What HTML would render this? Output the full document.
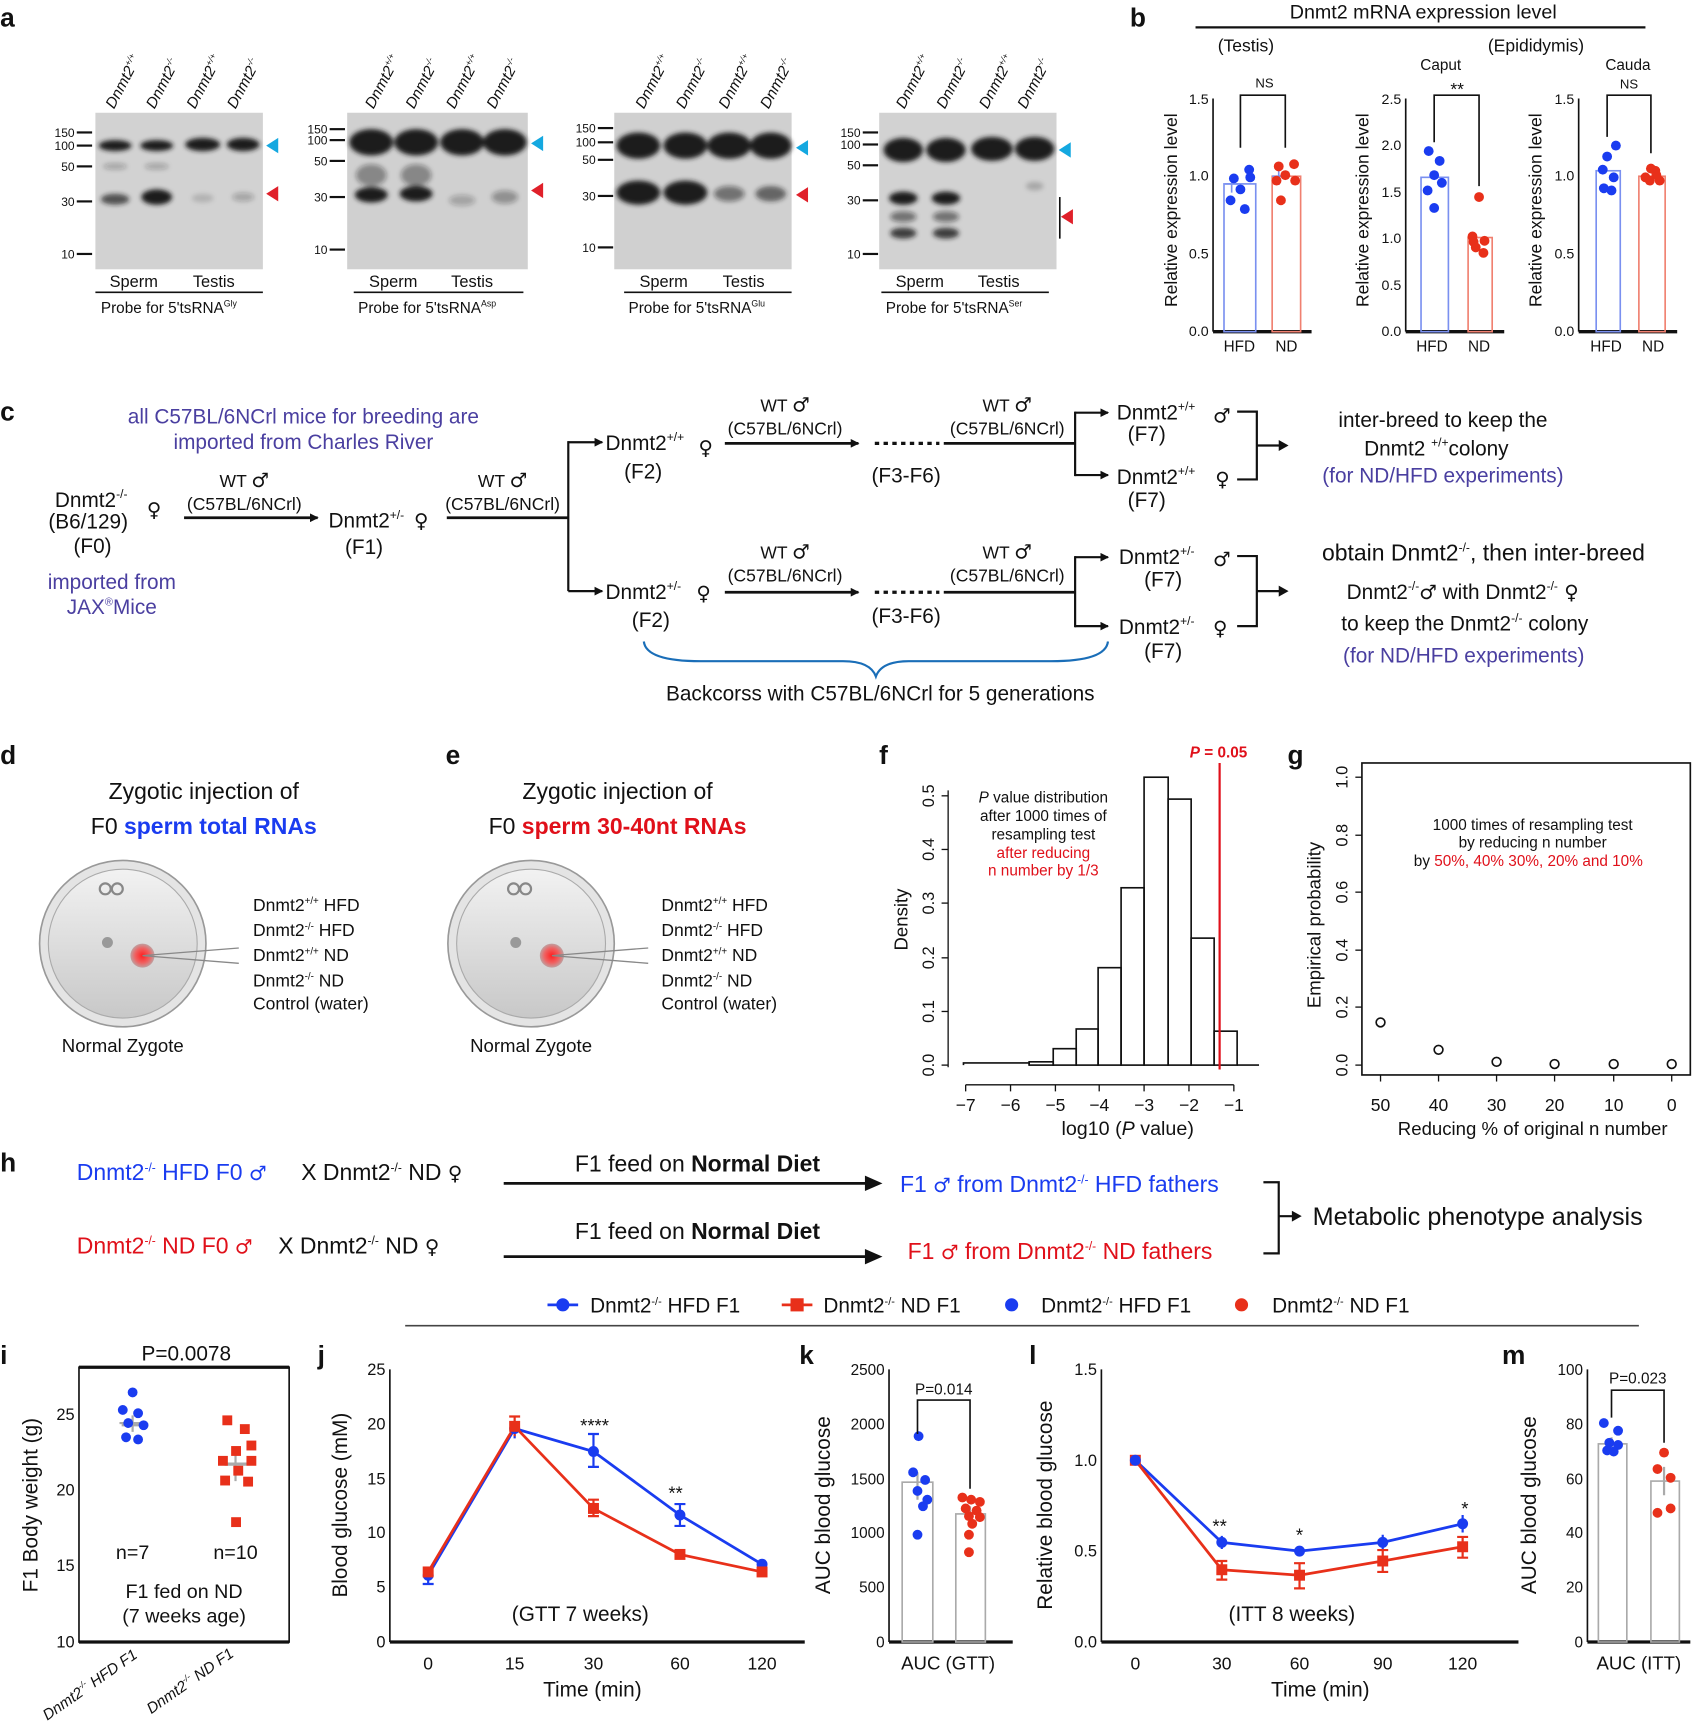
<!DOCTYPE html>
<html><head><meta charset="utf-8"><style>
html,body{margin:0;padding:0;background:#fff}
svg{display:block}
text{font-family:"Liberation Sans",Arial,sans-serif;fill:#111}
.b{font-weight:bold}
.pu{fill:#4a3fa0}
.bl{fill:#1a3cf0}
.rd{fill:#e0101a}
.sx{font-family:"DejaVu Sans",sans-serif;font-size:18px}
</style></head><body>
<svg width="1708" height="1723" viewBox="0 0 1560 1574" xmlns="http://www.w3.org/2000/svg">
<defs>
<marker id="ar" markerWidth="8" markerHeight="8" refX="7" refY="4" orient="auto" markerUnits="userSpaceOnUse"><path d="M0,0 L8,4 L0,8 z" fill="#111"/></marker>
<linearGradient id="zg" x1="0" y1="0" x2="0" y2="1"><stop offset="0" stop-color="#f2f2f2"/><stop offset="1" stop-color="#c8c8c8"/></linearGradient>
<radialGradient id="rg"><stop offset="0" stop-color="#ff2020"/><stop offset="0.6" stop-color="#f06060"/><stop offset="1" stop-color="#c0a0a0"/></radialGradient>
<filter id="bl" x="-20%" y="-50%" width="140%" height="200%"><feGaussianBlur stdDeviation="2.2"/></filter>
</defs>

<!-- panel labels -->
<g class="b" font-size="24">
<text x="0" y="24" class="b">a</text><text x="1032" y="24" class="b">b</text>
<text x="0" y="384" class="b">c</text><text x="0" y="698" class="b">d</text><text x="407" y="698" class="b">e</text>
<text x="803" y="698" class="b">f</text><text x="1176" y="698" class="b">g</text><text x="0" y="1070" class="b">h</text>
<text x="0" y="1246" class="b">i</text><text x="290" y="1246" class="b">j</text><text x="730" y="1246" class="b">k</text>
<text x="940" y="1246" class="b">l</text><text x="1372" y="1246" class="b">m</text>
</g>

<!-- ===== Panel a: blots ===== -->
<g font-size="12">
<rect x="87" y="103" width="153" height="143" fill="#d2d2d2"/>
<g fill="#1a1a1a" filter="url(#bl)">
<ellipse cx="105" cy="133" rx="15" ry="5"/><ellipse cx="143" cy="133" rx="15" ry="5"/><ellipse cx="185" cy="132" rx="16" ry="6"/><ellipse cx="222" cy="132" rx="15" ry="6"/>
<ellipse cx="105" cy="182" rx="13" ry="5" opacity="0.7"/><ellipse cx="143" cy="180" rx="14" ry="7"/>
<ellipse cx="185" cy="181" rx="10" ry="4" opacity="0.15"/><ellipse cx="222" cy="180" rx="10" ry="4" opacity="0.25"/>
<ellipse cx="105" cy="152" rx="11" ry="3" opacity="0.25"/><ellipse cx="143" cy="152" rx="11" ry="3" opacity="0.25"/>
</g>
<rect x="317" y="103" width="165" height="143" fill="#d0d0d0"/>
<g fill="#1a1a1a" filter="url(#bl)">
<ellipse cx="339" cy="130" rx="20" ry="12"/><ellipse cx="380" cy="130" rx="20" ry="12"/><ellipse cx="422" cy="130" rx="20" ry="12"/><ellipse cx="461" cy="130" rx="20" ry="12"/>
<ellipse cx="339" cy="178" rx="15" ry="7"/><ellipse cx="380" cy="177" rx="15" ry="7"/>
<ellipse cx="339" cy="160" rx="14" ry="10" opacity="0.4"/><ellipse cx="380" cy="160" rx="14" ry="10" opacity="0.4"/>
<ellipse cx="422" cy="183" rx="12" ry="5" opacity="0.25"/><ellipse cx="461" cy="180" rx="12" ry="6" opacity="0.35"/>
</g>
<rect x="561" y="103" width="162" height="143" fill="#d0d0d0"/>
<g fill="#1a1a1a" filter="url(#bl)">
<ellipse cx="583" cy="133" rx="20" ry="12"/><ellipse cx="626" cy="133" rx="20" ry="12"/><ellipse cx="666" cy="133" rx="20" ry="12"/><ellipse cx="704" cy="133" rx="19" ry="12"/>
<ellipse cx="583" cy="176" rx="20" ry="11"/><ellipse cx="626" cy="176" rx="20" ry="11"/>
<ellipse cx="666" cy="177" rx="14" ry="7" opacity="0.5"/><ellipse cx="704" cy="177" rx="14" ry="7" opacity="0.6"/>
</g>
<rect x="803" y="103" width="162" height="143" fill="#d2d2d2"/>
<g fill="#1a1a1a" filter="url(#bl)">
<ellipse cx="825" cy="137" rx="18" ry="11"/><ellipse cx="864" cy="137" rx="18" ry="11"/><ellipse cx="906" cy="136" rx="19" ry="11"/><ellipse cx="945" cy="136" rx="18" ry="11"/>
<ellipse cx="825" cy="181" rx="13" ry="6"/><ellipse cx="864" cy="181" rx="13" ry="6"/>
<ellipse cx="825" cy="198" rx="12" ry="5" opacity="0.5"/><ellipse cx="864" cy="198" rx="12" ry="5" opacity="0.5"/>
<ellipse cx="825" cy="213" rx="12" ry="5" opacity="0.8"/><ellipse cx="864" cy="213" rx="12" ry="5" opacity="0.8"/>
<ellipse cx="945" cy="170" rx="8" ry="4" opacity="0.2"/>
</g>
<line x1="968" y1="180" x2="968" y2="218" stroke="#111" stroke-width="1.5"/>
<g stroke="#111" stroke-width="2">
<line x1="70" y1="121" x2="84" y2="121"/><line x1="70" y1="133" x2="84" y2="133"/><line x1="70" y1="152" x2="84" y2="152"/><line x1="70" y1="184" x2="84" y2="184"/><line x1="70" y1="232" x2="84" y2="232"/>
<line x1="301" y1="118" x2="315" y2="118"/><line x1="301" y1="128" x2="315" y2="128"/><line x1="301" y1="147" x2="315" y2="147"/><line x1="301" y1="180" x2="315" y2="180"/><line x1="301" y1="228" x2="315" y2="228"/>
<line x1="546" y1="117" x2="560" y2="117"/><line x1="546" y1="130" x2="560" y2="130"/><line x1="546" y1="146" x2="560" y2="146"/><line x1="546" y1="179" x2="560" y2="179"/><line x1="546" y1="226" x2="560" y2="226"/>
<line x1="788" y1="121" x2="802" y2="121"/><line x1="788" y1="132" x2="802" y2="132"/><line x1="788" y1="151" x2="802" y2="151"/><line x1="788" y1="183" x2="802" y2="183"/><line x1="788" y1="232" x2="802" y2="232"/>
</g>
<g font-size="11" text-anchor="end">
<text x="68" y="125">150</text><text x="68" y="137">100</text><text x="68" y="156">50</text><text x="68" y="188">30</text><text x="68" y="236">10</text>
<text x="299" y="122">150</text><text x="299" y="132">100</text><text x="299" y="151">50</text><text x="299" y="184">30</text><text x="299" y="232">10</text>
<text x="544" y="121">150</text><text x="544" y="134">100</text><text x="544" y="150">50</text><text x="544" y="183">30</text><text x="544" y="230">10</text>
<text x="786" y="125">150</text><text x="786" y="136">100</text><text x="786" y="155">50</text><text x="786" y="187">30</text><text x="786" y="236">10</text>
</g>
<g fill="#14a8e0"><path d="M243,133 l11,-7 v14z"/><path d="M485,131 l11,-7 v14z"/><path d="M727,135 l11,-7 v14z"/><path d="M967,137 l11,-7 v14z"/></g>
<g fill="#e0202a"><path d="M243,177 l11,-7 v14z"/><path d="M485,174 l11,-7 v14z"/><path d="M727,178 l11,-7 v14z"/><path d="M969,198 l11,-7 v14z"/></g>
<g font-size="14" font-style="italic">
<text transform="translate(104,100) rotate(-62)">Dnmt2<tspan font-size="8" dy="-6">+/+</tspan></text>
<text transform="translate(141,100) rotate(-62)">Dnmt2<tspan font-size="8" dy="-6">-/-</tspan></text>
<text transform="translate(178,100) rotate(-62)">Dnmt2<tspan font-size="8" dy="-6">+/+</tspan></text>
<text transform="translate(215,100) rotate(-62)">Dnmt2<tspan font-size="8" dy="-6">-/-</tspan></text>
<text transform="translate(341,100) rotate(-62)">Dnmt2<tspan font-size="8" dy="-6">+/+</tspan></text>
<text transform="translate(378,100) rotate(-62)">Dnmt2<tspan font-size="8" dy="-6">-/-</tspan></text>
<text transform="translate(415,100) rotate(-62)">Dnmt2<tspan font-size="8" dy="-6">+/+</tspan></text>
<text transform="translate(452,100) rotate(-62)">Dnmt2<tspan font-size="8" dy="-6">-/-</tspan></text>
<text transform="translate(588,100) rotate(-62)">Dnmt2<tspan font-size="8" dy="-6">+/+</tspan></text>
<text transform="translate(625,100) rotate(-62)">Dnmt2<tspan font-size="8" dy="-6">-/-</tspan></text>
<text transform="translate(664,100) rotate(-62)">Dnmt2<tspan font-size="8" dy="-6">+/+</tspan></text>
<text transform="translate(702,100) rotate(-62)">Dnmt2<tspan font-size="8" dy="-6">-/-</tspan></text>
<text transform="translate(826,100) rotate(-62)">Dnmt2<tspan font-size="8" dy="-6">+/+</tspan></text>
<text transform="translate(863,100) rotate(-62)">Dnmt2<tspan font-size="8" dy="-6">-/-</tspan></text>
<text transform="translate(902,100) rotate(-62)">Dnmt2<tspan font-size="8" dy="-6">+/+</tspan></text>
<text transform="translate(937,100) rotate(-62)">Dnmt2<tspan font-size="8" dy="-6">-/-</tspan></text>
</g>
<g font-size="15">
<text x="100" y="262">Sperm</text><text x="176" y="262">Testis</text>
<text x="337" y="262">Sperm</text><text x="412" y="262">Testis</text>
<text x="584" y="262">Sperm</text><text x="660" y="262">Testis</text>
<text x="818" y="262">Sperm</text><text x="893" y="262">Testis</text>
</g>
<g stroke="#111" stroke-width="1.5">
<line x1="87" y1="267" x2="240" y2="267"/><line x1="323" y1="267" x2="478" y2="267"/><line x1="570" y1="267" x2="723" y2="267"/><line x1="805" y1="267" x2="958" y2="267"/>
</g>
<g font-size="14">
<text x="92" y="286">Probe for 5'tsRNA<tspan font-size="8" dy="-6">Gly</tspan></text>
<text x="327" y="286">Probe for 5'tsRNA<tspan font-size="8" dy="-6">Asp</tspan></text>
<text x="574" y="286">Probe for 5'tsRNA<tspan font-size="8" dy="-6">Glu</tspan></text>
<text x="809" y="286">Probe for 5'tsRNA<tspan font-size="8" dy="-6">Ser</tspan></text>
</g>
</g>

<!-- ===== Panel b ===== -->
<text x="1300" y="17" font-size="18" text-anchor="middle">Dnmt2 mRNA expression level</text>
<line x1="1092" y1="25" x2="1503" y2="25" stroke="#111" stroke-width="2"/>
<text x="1138" y="47" font-size="16" text-anchor="middle">(Testis)</text>
<text x="1403" y="47" font-size="16" text-anchor="middle">(Epididymis)</text>
<text x="1316" y="64" font-size="14" text-anchor="middle">Caput</text>
<text x="1487" y="64" font-size="14" text-anchor="middle">Cauda</text>
<g font-size="13">
<line x1="1108" y1="90" x2="1108" y2="303" stroke="#111" stroke-width="1.5"/>
<line x1="1108" y1="303" x2="1198" y2="303" stroke="#111" stroke-width="3"/>
<g text-anchor="end"><text x="1104" y="95">1.5</text><text x="1104" y="165">1.0</text><text x="1104" y="236">0.5</text><text x="1104" y="307">0.0</text></g>
<text transform="translate(1075,192) rotate(-90)" font-size="16" text-anchor="middle">Relative expression level</text>
<rect x="1118" y="168" width="29" height="135" fill="none" stroke="#7a90f0" stroke-width="1.5"/>
<rect x="1162" y="161" width="26" height="142" fill="none" stroke="#f08070" stroke-width="1.5"/>
<path d="M1125,160v16M1119,168h12M1168,153v16M1162,161h12" stroke="#7a90f0" stroke-width="1.5"/>
<g fill="#1a3cf0"><circle cx="1127" cy="163" r="4.5"/><circle cx="1141" cy="155" r="4.5"/><circle cx="1133" cy="173" r="4.5"/><circle cx="1137" cy="191" r="4.5"/><circle cx="1124" cy="183" r="4.5"/><circle cx="1142" cy="162" r="4.5"/></g>
<g fill="#e8301a"><circle cx="1168" cy="152" r="4.5"/><circle cx="1182" cy="150" r="4.5"/><circle cx="1174" cy="160" r="4.5"/><circle cx="1183" cy="165" r="4.5"/><circle cx="1170" cy="183" r="4.5"/><circle cx="1166" cy="165" r="4.5"/></g>
<path d="M1133,135V87H1174V135" fill="none" stroke="#111" stroke-width="1.5"/><text x="1155" y="80" text-anchor="middle" font-size="12">NS</text>
<text x="1132" y="321" font-size="14" text-anchor="middle">HFD</text><text x="1175" y="321" font-size="14" text-anchor="middle">ND</text>
<line x1="1284" y1="90" x2="1284" y2="303" stroke="#111" stroke-width="1.5"/>
<line x1="1284" y1="303" x2="1374" y2="303" stroke="#111" stroke-width="3"/>
<g text-anchor="end"><text x="1280" y="95">2.5</text><text x="1280" y="137">2.0</text><text x="1280" y="180">1.5</text><text x="1280" y="222">1.0</text><text x="1280" y="265">0.5</text><text x="1280" y="307">0.0</text></g>
<text transform="translate(1250,192) rotate(-90)" font-size="16" text-anchor="middle">Relative expression level</text>
<rect x="1298" y="162" width="25" height="141" fill="none" stroke="#7a90f0" stroke-width="1.5"/>
<rect x="1341" y="217" width="22" height="86" fill="none" stroke="#f08070" stroke-width="1.5"/>
<g fill="#1a3cf0"><circle cx="1305" cy="138" r="4.5"/><circle cx="1315" cy="147" r="4.5"/><circle cx="1310" cy="160" r="4.5"/><circle cx="1317" cy="167" r="4.5"/><circle cx="1304" cy="174" r="4.5"/><circle cx="1310" cy="190" r="4.5"/></g>
<g fill="#e8301a"><circle cx="1351" cy="180" r="4.5"/><circle cx="1345" cy="216" r="4.5"/><circle cx="1356" cy="220" r="4.5"/><circle cx="1348" cy="226" r="4.5"/><circle cx="1355" cy="231" r="4.5"/><circle cx="1346" cy="221" r="4.5"/></g>
<path d="M1310,130V87H1351V170" fill="none" stroke="#111" stroke-width="1.5"/><text x="1331" y="87" text-anchor="middle" font-size="16">**</text>
<text x="1308" y="321" font-size="14" text-anchor="middle">HFD</text><text x="1351" y="321" font-size="14" text-anchor="middle">ND</text>
<line x1="1442" y1="90" x2="1442" y2="303" stroke="#111" stroke-width="1.5"/>
<line x1="1442" y1="303" x2="1532" y2="303" stroke="#111" stroke-width="3"/>
<g text-anchor="end"><text x="1438" y="95">1.5</text><text x="1438" y="165">1.0</text><text x="1438" y="236">0.5</text><text x="1438" y="307">0.0</text></g>
<text transform="translate(1408,192) rotate(-90)" font-size="16" text-anchor="middle">Relative expression level</text>
<rect x="1458" y="156" width="22" height="147" fill="none" stroke="#7a90f0" stroke-width="1.5"/>
<rect x="1497" y="161" width="24" height="142" fill="none" stroke="#f08070" stroke-width="1.5"/>
<g fill="#1a3cf0"><circle cx="1468" cy="143" r="4.5"/><circle cx="1476" cy="133" r="4.5"/><circle cx="1464" cy="155" r="4.5"/><circle cx="1474" cy="162" r="4.5"/><circle cx="1465" cy="172" r="4.5"/><circle cx="1472" cy="174" r="4.5"/></g>
<g fill="#e8301a"><circle cx="1508" cy="154" r="4.5"/><circle cx="1513" cy="160" r="4.5"/><circle cx="1503" cy="162" r="4.5"/><circle cx="1516" cy="165" r="4.5"/><circle cx="1507" cy="165" r="4.5"/><circle cx="1512" cy="156" r="4.5"/></g>
<path d="M1468,125V87H1508V140" fill="none" stroke="#111" stroke-width="1.5"/><text x="1488" y="81" text-anchor="middle" font-size="12">NS</text>
<text x="1467" y="321" font-size="14" text-anchor="middle">HFD</text><text x="1510" y="321" font-size="14" text-anchor="middle">ND</text>
</g>

<!-- ===== Panel c ===== -->
<g font-size="19">
<text x="277" y="387" text-anchor="middle" class="pu">all C57BL/6NCrl mice for breeding are</text>
<text x="277" y="410" text-anchor="middle" class="pu">imported from Charles River</text>
<text x="50" y="463">Dnmt2<tspan font-size="11" dy="-8">-/-</tspan></text><text x="134" y="472" class="sx">♀</text>
<text x="44" y="483">(B6/129)</text>
<text x="67" y="505">(F0)</text>
<text x="102" y="538" text-anchor="middle" class="pu">imported from</text>
<text x="102" y="561" text-anchor="middle" class="pu">JAX<tspan font-size="10" dy="-8">®</tspan><tspan dy="8">Mice</tspan></text>
<g font-size="16"><text x="223" y="445" text-anchor="middle">WT <tspan class="sx">♂</tspan></text><text x="223" y="466" text-anchor="middle">(C57BL/6NCrl)</text></g>
<line x1="168" y1="473" x2="290" y2="473" stroke="#111" stroke-width="2.5" marker-end="url(#ar)"/>
<text x="300" y="482">Dnmt2<tspan font-size="11" dy="-8">+/-</tspan></text><text x="378" y="482" class="sx">♀</text>
<text x="315" y="506">(F1)</text>
<g font-size="16"><text x="459" y="445" text-anchor="middle">WT <tspan class="sx">♂</tspan></text><text x="459" y="466" text-anchor="middle">(C57BL/6NCrl)</text></g>
<line x1="408" y1="473" x2="519" y2="473" stroke="#111" stroke-width="2.5"/>
<path d="M519,403V540" stroke="#111" stroke-width="2" fill="none"/>
<line x1="519" y1="404" x2="550" y2="404" stroke="#111" stroke-width="2" marker-end="url(#ar)"/>
<line x1="519" y1="540" x2="550" y2="540" stroke="#111" stroke-width="2" marker-end="url(#ar)"/>
<text x="553" y="411">Dnmt2<tspan font-size="11" dy="-8">+/+</tspan></text><text x="638" y="415" class="sx">♀</text>
<text x="570" y="437">(F2)</text>
<text x="553" y="547">Dnmt2<tspan font-size="11" dy="-8">+/-</tspan></text><text x="636" y="548" class="sx">♀</text>
<text x="577" y="573">(F2)</text>
<g font-size="16">
<text x="717" y="376" text-anchor="middle">WT <tspan class="sx">♂</tspan></text><text x="717" y="397" text-anchor="middle">(C57BL/6NCrl)</text>
<text x="920" y="376" text-anchor="middle">WT <tspan class="sx">♂</tspan></text><text x="920" y="397" text-anchor="middle">(C57BL/6NCrl)</text>
<text x="717" y="510" text-anchor="middle">WT <tspan class="sx">♂</tspan></text><text x="717" y="531" text-anchor="middle">(C57BL/6NCrl)</text>
<text x="920" y="510" text-anchor="middle">WT <tspan class="sx">♂</tspan></text><text x="920" y="531" text-anchor="middle">(C57BL/6NCrl)</text>
</g>
<line x1="662" y1="405" x2="784" y2="405" stroke="#111" stroke-width="2.5" marker-end="url(#ar)"/>
<line x1="799" y1="405" x2="858" y2="405" stroke="#111" stroke-width="3" stroke-dasharray="4,4"/>
<line x1="862" y1="405" x2="982" y2="405" stroke="#111" stroke-width="2.5"/>
<line x1="662" y1="541" x2="784" y2="541" stroke="#111" stroke-width="2.5" marker-end="url(#ar)"/>
<line x1="799" y1="541" x2="858" y2="541" stroke="#111" stroke-width="3" stroke-dasharray="4,4"/>
<line x1="862" y1="541" x2="982" y2="541" stroke="#111" stroke-width="2.5"/>
<text x="796" y="441">(F3-F6)</text><text x="796" y="569">(F3-F6)</text>
<path d="M982,376V435M982,508V573" stroke="#111" stroke-width="2"/>
<g stroke="#111" stroke-width="2" marker-end="url(#ar)"><line x1="982" y1="377" x2="1012" y2="377"/><line x1="982" y1="434" x2="1012" y2="434"/><line x1="982" y1="509" x2="1012" y2="509"/><line x1="982" y1="572" x2="1012" y2="572"/></g>
<text x="1020" y="383">Dnmt2<tspan font-size="11" dy="-8">+/+</tspan></text><text x="1108" y="386" class="sx">♂</text><text x="1030" y="403">(F7)</text>
<text x="1020" y="442">Dnmt2<tspan font-size="11" dy="-8">+/+</tspan></text><text x="1110" y="444" class="sx">♀</text><text x="1030" y="463">(F7)</text>
<text x="1022" y="515">Dnmt2<tspan font-size="11" dy="-8">+/-</tspan></text><text x="1108" y="517" class="sx">♂</text><text x="1045" y="536">(F7)</text>
<text x="1022" y="579">Dnmt2<tspan font-size="11" dy="-8">+/-</tspan></text><text x="1108" y="580" class="sx">♀</text><text x="1045" y="601">(F7)</text>
<path d="M1130,376H1148V438H1130M1148,407H1175M1130,508H1148V572H1130M1148,540H1175" stroke="#111" stroke-width="2" fill="none"/>
<path d="M1168,402l9,5l-9,5zM1168,535l9,5l-9,5z" fill="#111"/>
<text x="1318" y="390" text-anchor="middle">inter-breed to keep the</text>
<text x="1312" y="416" text-anchor="middle">Dnmt2 <tspan font-size="11" dy="-8">+/+</tspan><tspan dy="8">colony</tspan></text>
<text x="1318" y="441" text-anchor="middle" class="pu">(for ND/HFD experiments)</text>
<text x="1355" y="512" text-anchor="middle" font-size="21">obtain Dnmt2<tspan font-size="11" dy="-8">-/-</tspan><tspan dy="8">, then inter-breed</tspan></text>
<text x="1336" y="547" text-anchor="middle">Dnmt2<tspan font-size="11" dy="-8">-/-</tspan><tspan dy="8" class="sx">♂</tspan><tspan> with Dnmt2</tspan><tspan font-size="11" dy="-8">-/-</tspan><tspan dy="8" class="sx"> ♀</tspan></text>
<text x="1338" y="576" text-anchor="middle">to keep the Dnmt2<tspan font-size="11" dy="-8">-/-</tspan><tspan dy="8"> colony</tspan></text>
<text x="1337" y="605" text-anchor="middle" class="pu">(for ND/HFD experiments)</text>
<path d="M588,586 Q590,604 640,604 L770,604 Q795,604 800,618 Q805,604 830,604 L960,604 Q1010,604 1012,586" stroke="#1a6eb8" stroke-width="2" fill="none"/>
<text x="804" y="640" text-anchor="middle">Backcorss with C57BL/6NCrl for 5 generations</text>
</g>

<!-- ===== Panels d, e ===== -->
<g font-size="21">
<text x="186" y="730" text-anchor="middle">Zygotic injection of</text>
<text x="186" y="762" text-anchor="middle">F0 <tspan class="b" style="fill:#1a3cf0">sperm total RNAs</tspan></text>
<text x="564" y="730" text-anchor="middle">Zygotic injection of</text>
<text x="564" y="762" text-anchor="middle">F0 <tspan class="b" style="fill:#e0101a">sperm 30-40nt RNAs</tspan></text>
</g>
<g>
<circle cx="112" cy="862" r="76" fill="#e4e4e4" stroke="#999" stroke-width="1.5"/>
<circle cx="112" cy="862" r="68" fill="url(#zg)" stroke="#aaa"/>
<circle cx="96" cy="812" r="5" fill="none" stroke="#888" stroke-width="2"/><circle cx="107" cy="812" r="5" fill="none" stroke="#888" stroke-width="2"/>
<circle cx="98" cy="861" r="5" fill="#999"/>
<circle cx="130" cy="873" r="11" fill="url(#rg)"/>
<path d="M130,873 L218,866 M130,873 L218,880" stroke="#888" stroke-width="1.2"/>
<circle cx="485" cy="862" r="76" fill="#e4e4e4" stroke="#999" stroke-width="1.5"/>
<circle cx="485" cy="862" r="68" fill="url(#zg)" stroke="#aaa"/>
<circle cx="469" cy="812" r="5" fill="none" stroke="#888" stroke-width="2"/><circle cx="480" cy="812" r="5" fill="none" stroke="#888" stroke-width="2"/>
<circle cx="471" cy="861" r="5" fill="#999"/>
<circle cx="504" cy="873" r="11" fill="url(#rg)"/>
<path d="M504,873 L592,866 M504,873 L592,880" stroke="#888" stroke-width="1.2"/>
</g>
<g font-size="16">
<text x="231" y="832">Dnmt2<tspan font-size="9" dy="-6">+/+</tspan><tspan dy="6"> HFD</tspan></text>
<text x="231" y="855">Dnmt2<tspan font-size="9" dy="-6">-/-</tspan><tspan dy="6"> HFD</tspan></text>
<text x="231" y="878">Dnmt2<tspan font-size="9" dy="-6">+/+</tspan><tspan dy="6"> ND</tspan></text>
<text x="231" y="901">Dnmt2<tspan font-size="9" dy="-6">-/-</tspan><tspan dy="6"> ND</tspan></text>
<text x="231" y="922">Control (water)</text>
<text x="604" y="832">Dnmt2<tspan font-size="9" dy="-6">+/+</tspan><tspan dy="6"> HFD</tspan></text>
<text x="604" y="855">Dnmt2<tspan font-size="9" dy="-6">-/-</tspan><tspan dy="6"> HFD</tspan></text>
<text x="604" y="878">Dnmt2<tspan font-size="9" dy="-6">+/+</tspan><tspan dy="6"> ND</tspan></text>
<text x="604" y="901">Dnmt2<tspan font-size="9" dy="-6">-/-</tspan><tspan dy="6"> ND</tspan></text>
<text x="604" y="922">Control (water)</text>
<text x="112" y="961" text-anchor="middle" font-size="17">Normal Zygote</text>
<text x="485" y="961" text-anchor="middle" font-size="17">Normal Zygote</text>
</g>

<!-- ===== Panel f ===== -->
<g>
<line x1="866" y1="722" x2="866" y2="975" stroke="#111" stroke-width="1.2"/>
<g stroke="#111" stroke-width="1.2"><line x1="860" y1="973" x2="866" y2="973"/><line x1="860" y1="924" x2="866" y2="924"/><line x1="860" y1="875" x2="866" y2="875"/><line x1="860" y1="825" x2="866" y2="825"/><line x1="860" y1="776" x2="866" y2="776"/><line x1="860" y1="727" x2="866" y2="727"/></g>
<g font-size="15" text-anchor="middle">
<text transform="translate(853,973) rotate(-90)">0.0</text><text transform="translate(853,924) rotate(-90)">0.1</text><text transform="translate(853,875) rotate(-90)">0.2</text><text transform="translate(853,825) rotate(-90)">0.3</text><text transform="translate(853,776) rotate(-90)">0.4</text><text transform="translate(853,727) rotate(-90)">0.5</text>
<text transform="translate(829,840) rotate(-90)" font-size="17">Density</text>
</g>
<line x1="882" y1="991" x2="1127" y2="991" stroke="#111" stroke-width="1.2"/>
<g stroke="#111" stroke-width="1.2"><line x1="882" y1="991" x2="882" y2="997"/><line x1="923" y1="991" x2="923" y2="997"/><line x1="964" y1="991" x2="964" y2="997"/><line x1="1004" y1="991" x2="1004" y2="997"/><line x1="1045" y1="991" x2="1045" y2="997"/><line x1="1086" y1="991" x2="1086" y2="997"/><line x1="1127" y1="991" x2="1127" y2="997"/></g>
<g font-size="16" text-anchor="middle"><text x="882" y="1015">−7</text><text x="923" y="1015">−6</text><text x="964" y="1015">−5</text><text x="1004" y="1015">−4</text><text x="1045" y="1015">−3</text><text x="1086" y="1015">−2</text><text x="1127" y="1015">−1</text>
<text x="1030" y="1037" font-size="18">log10 (<tspan font-style="italic">P</tspan> value)</text></g>
<g fill="none" stroke="#111" stroke-width="1.5">
<path d="M880,973V971H940V973"/>
<rect x="940" y="970" width="22" height="3"/><rect x="962" y="958" width="21" height="15"/><rect x="983" y="940" width="20" height="33"/><rect x="1003" y="884" width="21" height="89"/><rect x="1024" y="811" width="21" height="162"/><rect x="1045" y="710" width="22" height="263"/><rect x="1067" y="730" width="21" height="243"/><rect x="1088" y="857" width="21" height="116"/><rect x="1109" y="942" width="21" height="31"/>
<line x1="1130" y1="973" x2="1150" y2="973"/>
</g>
<line x1="1114" y1="697" x2="1114" y2="977" stroke="#e0101a" stroke-width="2"/>
<text x="1113" y="692" font-size="14" class="b" style="fill:#e0101a" text-anchor="middle"><tspan font-style="italic">P</tspan> = 0.05</text>
<g font-size="14" text-anchor="middle">
<text x="953" y="733"><tspan font-style="italic">P</tspan> value distribution</text>
<text x="953" y="750">after 1000 times of</text>
<text x="953" y="767">resampling test</text>
<text x="953" y="784" class="rd">after reducing</text>
<text x="953" y="800" class="rd">n number by 1/3</text>
</g>
</g>

<!-- ===== Panel g ===== -->
<g>
<rect x="1244" y="697" width="300" height="285" fill="none" stroke="#111" stroke-width="1.5"/>
<g stroke="#111" stroke-width="1.2"><line x1="1238" y1="973" x2="1244" y2="973"/><line x1="1238" y1="920" x2="1244" y2="920"/><line x1="1238" y1="868" x2="1244" y2="868"/><line x1="1238" y1="815" x2="1244" y2="815"/><line x1="1238" y1="763" x2="1244" y2="763"/><line x1="1238" y1="710" x2="1244" y2="710"/>
<line x1="1261" y1="982" x2="1261" y2="988"/><line x1="1314" y1="982" x2="1314" y2="988"/><line x1="1367" y1="982" x2="1367" y2="988"/><line x1="1420" y1="982" x2="1420" y2="988"/><line x1="1474" y1="982" x2="1474" y2="988"/><line x1="1527" y1="982" x2="1527" y2="988"/></g>
<g font-size="15" text-anchor="middle">
<text transform="translate(1231,973) rotate(-90)">0.0</text><text transform="translate(1231,920) rotate(-90)">0.2</text><text transform="translate(1231,868) rotate(-90)">0.4</text><text transform="translate(1231,815) rotate(-90)">0.6</text><text transform="translate(1231,763) rotate(-90)">0.8</text><text transform="translate(1231,710) rotate(-90)">1.0</text>
<text transform="translate(1206,845) rotate(-90)" font-size="17">Empirical probability</text>
<text x="1261" y="1015" font-size="16">50</text><text x="1314" y="1015" font-size="16">40</text><text x="1367" y="1015" font-size="16">30</text><text x="1420" y="1015" font-size="16">20</text><text x="1474" y="1015" font-size="16">10</text><text x="1527" y="1015" font-size="16">0</text>
<text x="1400" y="1037" font-size="17">Reducing % of original n number</text>
<text x="1400" y="758" font-size="14">1000 times of resampling test</text>
<text x="1400" y="774" font-size="14">by reducing n number</text>
<text x="1396" y="791" font-size="14">by <tspan class="rd">50%, 40% 30%, 20% and 10%</tspan></text>
</g>
<g fill="none" stroke="#111" stroke-width="1.5"><circle cx="1261" cy="934" r="4"/><circle cx="1314" cy="959" r="4"/><circle cx="1367" cy="970" r="4"/><circle cx="1420" cy="972" r="4"/><circle cx="1474" cy="972" r="4"/><circle cx="1527" cy="972" r="4"/></g>
</g>

<!-- ===== Panel h ===== -->
<g font-size="21">
<text x="70" y="1078" class="bl">Dnmt2<tspan font-size="11" dy="-8">-/-</tspan><tspan dy="8"> HFD F0 </tspan><tspan class="sx" font-size="22">♂</tspan></text>
<text x="275" y="1078">X Dnmt2<tspan font-size="11" dy="-8">-/-</tspan><tspan dy="8"> ND </tspan><tspan class="sx">♀</tspan></text>
<text x="70" y="1145" class="rd">Dnmt2<tspan font-size="11" dy="-8">-/-</tspan><tspan dy="8"> ND F0 </tspan><tspan class="sx">♂</tspan></text>
<text x="254" y="1145">X Dnmt2<tspan font-size="11" dy="-8">-/-</tspan><tspan dy="8"> ND </tspan><tspan class="sx">♀</tspan></text>
<text x="637" y="1070" text-anchor="middle">F1 feed on <tspan class="b">Normal Diet</tspan></text>
<text x="637" y="1132" text-anchor="middle">F1 feed on <tspan class="b">Normal Diet</tspan></text>
<line x1="460" y1="1081" x2="803" y2="1081" stroke="#111" stroke-width="2.5"/><path d="M790,1074l16,7l-16,7z" fill="#111"/>
<line x1="460" y1="1148" x2="803" y2="1148" stroke="#111" stroke-width="2.5"/><path d="M790,1141l16,7l-16,7z" fill="#111"/>
<text x="822" y="1089" class="bl">F1 <tspan class="sx">♂</tspan> from Dnmt2<tspan font-size="11" dy="-8">-/-</tspan><tspan dy="8"> HFD fathers</tspan></text>
<text x="829" y="1150" class="rd">F1 <tspan class="sx">♂</tspan> from Dnmt2<tspan font-size="11" dy="-8">-/-</tspan><tspan dy="8"> ND fathers</tspan></text>
<path d="M1154,1080H1168V1145H1154M1168,1111H1182" stroke="#111" stroke-width="2" fill="none"/><path d="M1180,1106l9,5l-9,5z" fill="#111"/>
<text x="1199" y="1119" font-size="23">Metabolic phenotype analysis</text>
</g>

<!-- legend -->
<g font-size="19">
<line x1="500" y1="1192" x2="528" y2="1192" stroke="#1a3cf0" stroke-width="2.5"/><circle cx="514" cy="1192" r="6" fill="#1a3cf0"/>
<text x="539" y="1199">Dnmt2<tspan font-size="10" dy="-7">-/-</tspan><tspan dy="7"> HFD F1</tspan></text>
<line x1="714" y1="1192" x2="742" y2="1192" stroke="#e8301a" stroke-width="2.5"/><rect x="722" y="1186" width="12" height="12" fill="#e8301a"/>
<text x="752" y="1199">Dnmt2<tspan font-size="10" dy="-7">-/-</tspan><tspan dy="7"> ND F1</tspan></text>
<circle cx="924" cy="1192" r="6" fill="#1a3cf0"/>
<text x="951" y="1199">Dnmt2<tspan font-size="10" dy="-7">-/-</tspan><tspan dy="7"> HFD F1</tspan></text>
<circle cx="1134" cy="1192" r="6" fill="#e8301a"/>
<text x="1162" y="1199">Dnmt2<tspan font-size="10" dy="-7">-/-</tspan><tspan dy="7"> ND F1</tspan></text>
</g>
<line x1="370" y1="1211" x2="1497" y2="1211" stroke="#444" stroke-width="1.5"/>

<!-- ===== Panel i ===== -->
<g>
<rect x="72" y="1249" width="192" height="251" fill="none" stroke="#111" stroke-width="1.5"/>
<line x1="72" y1="1249" x2="264" y2="1249" stroke="#111" stroke-width="3"/>
<line x1="72" y1="1500" x2="264" y2="1500" stroke="#111" stroke-width="3"/>
<g font-size="15" text-anchor="end"><text x="68" y="1297">25</text><text x="68" y="1366">20</text><text x="68" y="1435">15</text><text x="68" y="1505">10</text></g>
<text transform="translate(34,1375) rotate(-90)" font-size="19" text-anchor="middle">F1 Body weight (g)</text>
<text x="170" y="1243" font-size="19" text-anchor="middle">P=0.0078</text>
<path d="M109,1300H133M121,1293V1308M111,1302H131" stroke="#aaa" stroke-width="2"/>
<g fill="#1a3cf0"><circle cx="121" cy="1272" r="4.5"/><circle cx="112" cy="1288" r="4.5"/><circle cx="126" cy="1291" r="4.5"/><circle cx="117" cy="1300" r="4.5"/><circle cx="131" cy="1302" r="4.5"/><circle cx="115" cy="1313" r="4.5"/><circle cx="126" cy="1315" r="4.5"/></g>
<path d="M203,1337H227M215,1322V1353M205,1338H225" stroke="#aaa" stroke-width="2"/>
<g fill="#e8301a"><rect x="203" y="1293" width="9" height="9"/><rect x="219" y="1301" width="9" height="9"/><rect x="225" y="1316" width="9" height="9"/><rect x="211" y="1321" width="9" height="9"/><rect x="199" y="1330" width="9" height="9"/><rect x="225" y="1330" width="9" height="9"/><rect x="213" y="1339" width="9" height="9"/><rect x="201" y="1348" width="9" height="9"/><rect x="222" y="1349" width="9" height="9"/><rect x="211" y="1386" width="9" height="9"/></g>
<g font-size="18" text-anchor="middle"><text x="121" y="1424">n=7</text><text x="215" y="1424">n=10</text>
<text x="168" y="1460">F1 fed on ND</text><text x="168" y="1482">(7 weeks age)</text></g>
<g font-size="14" font-style="italic"><text transform="translate(43,1572) rotate(-35)">Dnmt2<tspan font-size="8" dy="-6">-/-</tspan><tspan dy="6"> HFD F1</tspan></text>
<text transform="translate(138,1566) rotate(-35)">Dnmt2<tspan font-size="8" dy="-6">-/-</tspan><tspan dy="6"> ND F1</tspan></text></g>
</g>

<!-- ===== Panel j ===== -->
<g>
<line x1="356" y1="1251" x2="356" y2="1500" stroke="#111" stroke-width="1.5"/>
<line x1="356" y1="1500" x2="735" y2="1500" stroke="#111" stroke-width="3"/>
<g font-size="15" text-anchor="end"><text x="352" y="1256">25</text><text x="352" y="1306">20</text><text x="352" y="1356">15</text><text x="352" y="1405">10</text><text x="352" y="1455">5</text><text x="352" y="1505">0</text></g>
<text transform="translate(317,1375) rotate(-90)" font-size="19" text-anchor="middle">Blood glucose (mM)</text>
<g font-size="16" text-anchor="middle"><text x="391" y="1525">0</text><text x="470" y="1525">15</text><text x="542" y="1525">30</text><text x="621" y="1525">60</text><text x="696" y="1525">120</text>
<text x="541" y="1550" font-size="19">Time (min)</text><text x="530" y="1481" font-size="19">(GTT 7 weeks)</text></g>
<path d="M391,1439L470,1305L542,1326L621,1384L696,1429" stroke="#1a3cf0" stroke-width="2.5" fill="none"/>
<path d="M391,1436L470,1303L542,1378L621,1420L696,1436" stroke="#e8301a" stroke-width="2.5" fill="none"/>
<g stroke="#1a3cf0" stroke-width="2"><path d="M391,1432V1447M386,1447h10M542,1310V1340M537,1310h10M537,1340h10M621,1374V1394M616,1374h10M616,1394h10M470,1298V1314M696,1425V1434"/></g>
<g stroke="#e8301a" stroke-width="2"><path d="M470,1294V1312M465,1294h10M542,1370V1385M537,1370h10M537,1385h10M621,1416V1424M696,1433V1440"/></g>
<g fill="#1a3cf0"><circle cx="391" cy="1439" r="5"/><circle cx="470" cy="1305" r="5"/><circle cx="542" cy="1326" r="5"/><circle cx="621" cy="1384" r="5"/><circle cx="696" cy="1429" r="5"/></g>
<g fill="#e8301a"><rect x="386" y="1431" width="10" height="10"/><rect x="465" y="1298" width="10" height="10"/><rect x="537" y="1373" width="10" height="10"/><rect x="616" y="1415" width="10" height="10"/><rect x="691" y="1431" width="10" height="10"/></g>
<text x="543" y="1308" font-size="17" text-anchor="middle">****</text>
<text x="617" y="1370" font-size="17" text-anchor="middle">**</text>
</g>

<!-- ===== Panel k ===== -->
<g>
<line x1="812" y1="1251" x2="812" y2="1500" stroke="#111" stroke-width="1.5"/>
<line x1="812" y1="1500" x2="925" y2="1500" stroke="#111" stroke-width="3"/>
<g font-size="14" text-anchor="end"><text x="808" y="1256">2500</text><text x="808" y="1306">2000</text><text x="808" y="1356">1500</text><text x="808" y="1405">1000</text><text x="808" y="1455">500</text><text x="808" y="1505">0</text></g>
<text transform="translate(758,1375) rotate(-90)" font-size="19" text-anchor="middle">AUC blood glucose</text>
<rect x="824" y="1354" width="28" height="146" fill="none" stroke="#aaa" stroke-width="1.5"/>
<rect x="873" y="1383" width="27" height="117" fill="none" stroke="#aaa" stroke-width="1.5"/>
<path d="M838,1345V1370M886,1376V1392" stroke="#aaa" stroke-width="2"/>
<g fill="#1a3cf0"><circle cx="839" cy="1312" r="4.5"/><circle cx="834" cy="1345" r="4.5"/><circle cx="845" cy="1352" r="4.5"/><circle cx="838" cy="1362" r="4.5"/><circle cx="847" cy="1370" r="4.5"/><circle cx="843" cy="1376" r="4.5"/><circle cx="838" cy="1402" r="4.5"/></g>
<g fill="#e8301a"><circle cx="879" cy="1368" r="4.5"/><circle cx="887" cy="1370" r="4.5"/><circle cx="895" cy="1372" r="4.5"/><circle cx="882" cy="1378" r="4.5"/><circle cx="892" cy="1380" r="4.5"/><circle cx="885" cy="1385" r="4.5"/><circle cx="895" cy="1386" r="4.5"/><circle cx="888" cy="1392" r="4.5"/><circle cx="885" cy="1402" r="4.5"/><circle cx="885" cy="1418" r="4.5"/></g>
<path d="M838,1310V1279H886V1360" stroke="#111" stroke-width="1.5" fill="none"/>
<text x="862" y="1274" font-size="14" text-anchor="middle">P=0.014</text>
<text x="866" y="1525" font-size="17" text-anchor="middle">AUC (GTT)</text>
</g>

<!-- ===== Panel l ===== -->
<g>
<line x1="1006" y1="1251" x2="1006" y2="1500" stroke="#111" stroke-width="1.5"/>
<line x1="1006" y1="1500" x2="1387" y2="1500" stroke="#111" stroke-width="3"/>
<g font-size="15" text-anchor="end"><text x="1002" y="1256">1.5</text><text x="1002" y="1339">1.0</text><text x="1002" y="1422">0.5</text><text x="1002" y="1505">0.0</text></g>
<text transform="translate(961,1375) rotate(-90)" font-size="19" text-anchor="middle">Relative blood glucose</text>
<g font-size="16" text-anchor="middle"><text x="1037" y="1525">0</text><text x="1116" y="1525">30</text><text x="1187" y="1525">60</text><text x="1263" y="1525">90</text><text x="1336" y="1525">120</text>
<text x="1206" y="1550" font-size="19">Time (min)</text><text x="1180" y="1481" font-size="19">(ITT 8 weeks)</text></g>
<path d="M1037,1334L1116,1409L1187,1417L1263,1409L1336,1392" stroke="#1a3cf0" stroke-width="2.5" fill="none"/>
<path d="M1037,1334L1116,1434L1187,1439L1263,1426L1336,1413" stroke="#e8301a" stroke-width="2.5" fill="none"/>
<g stroke="#1a3cf0" stroke-width="2"><path d="M1116,1403V1415M1263,1402V1416M1336,1384V1400"/></g>
<g stroke="#e8301a" stroke-width="2"><path d="M1116,1426V1443M1111,1426h10M1111,1443h10M1187,1428V1451M1182,1428h10M1182,1451h10M1263,1416V1436M1258,1416h10M1258,1436h10M1336,1404V1423M1331,1404h10M1331,1423h10"/></g>
<g fill="#e8301a"><rect x="1032" y="1329" width="10" height="10"/><rect x="1111" y="1429" width="10" height="10"/><rect x="1182" y="1434" width="10" height="10"/><rect x="1258" y="1421" width="10" height="10"/><rect x="1331" y="1408" width="10" height="10"/></g>
<g fill="#1a3cf0"><circle cx="1037" cy="1334" r="5"/><circle cx="1116" cy="1409" r="5"/><circle cx="1187" cy="1417" r="5"/><circle cx="1263" cy="1409" r="5"/><circle cx="1336" cy="1392" r="5"/></g>
<g font-size="17" text-anchor="middle"><text x="1114" y="1400">**</text><text x="1187" y="1408">*</text><text x="1338" y="1384">*</text></g>
</g>

<!-- ===== Panel m ===== -->
<g>
<line x1="1450" y1="1251" x2="1450" y2="1500" stroke="#111" stroke-width="1.5"/>
<line x1="1450" y1="1500" x2="1544" y2="1500" stroke="#111" stroke-width="3"/>
<g font-size="14" text-anchor="end"><text x="1446" y="1256">100</text><text x="1446" y="1306">80</text><text x="1446" y="1356">60</text><text x="1446" y="1405">40</text><text x="1446" y="1455">20</text><text x="1446" y="1505">0</text></g>
<text transform="translate(1403,1375) rotate(-90)" font-size="19" text-anchor="middle">AUC blood glucose</text>
<rect x="1460" y="1319" width="26" height="181" fill="none" stroke="#aaa" stroke-width="1.5"/>
<rect x="1508" y="1353" width="26" height="147" fill="none" stroke="#aaa" stroke-width="1.5"/>
<path d="M1472,1313V1326M1520,1340V1366" stroke="#aaa" stroke-width="2"/>
<g fill="#1a3cf0"><circle cx="1465" cy="1300" r="4.5"/><circle cx="1478" cy="1307" r="4.5"/><circle cx="1470" cy="1318" r="4.5"/><circle cx="1478" cy="1320" r="4.5"/><circle cx="1468" cy="1325" r="4.5"/><circle cx="1474" cy="1326" r="4.5"/></g>
<g fill="#e8301a"><circle cx="1520" cy="1327" r="4.5"/><circle cx="1514" cy="1342" r="4.5"/><circle cx="1526" cy="1350" r="4.5"/><circle cx="1526" cy="1378" r="4.5"/><circle cx="1514" cy="1382" r="4.5"/></g>
<path d="M1472,1295V1270H1520V1318" stroke="#111" stroke-width="1.5" fill="none"/>
<text x="1496" y="1264" font-size="14" text-anchor="middle">P=0.023</text>
<text x="1497" y="1525" font-size="17" text-anchor="middle">AUC (ITT)</text>
</g>
</svg>
</body></html>
